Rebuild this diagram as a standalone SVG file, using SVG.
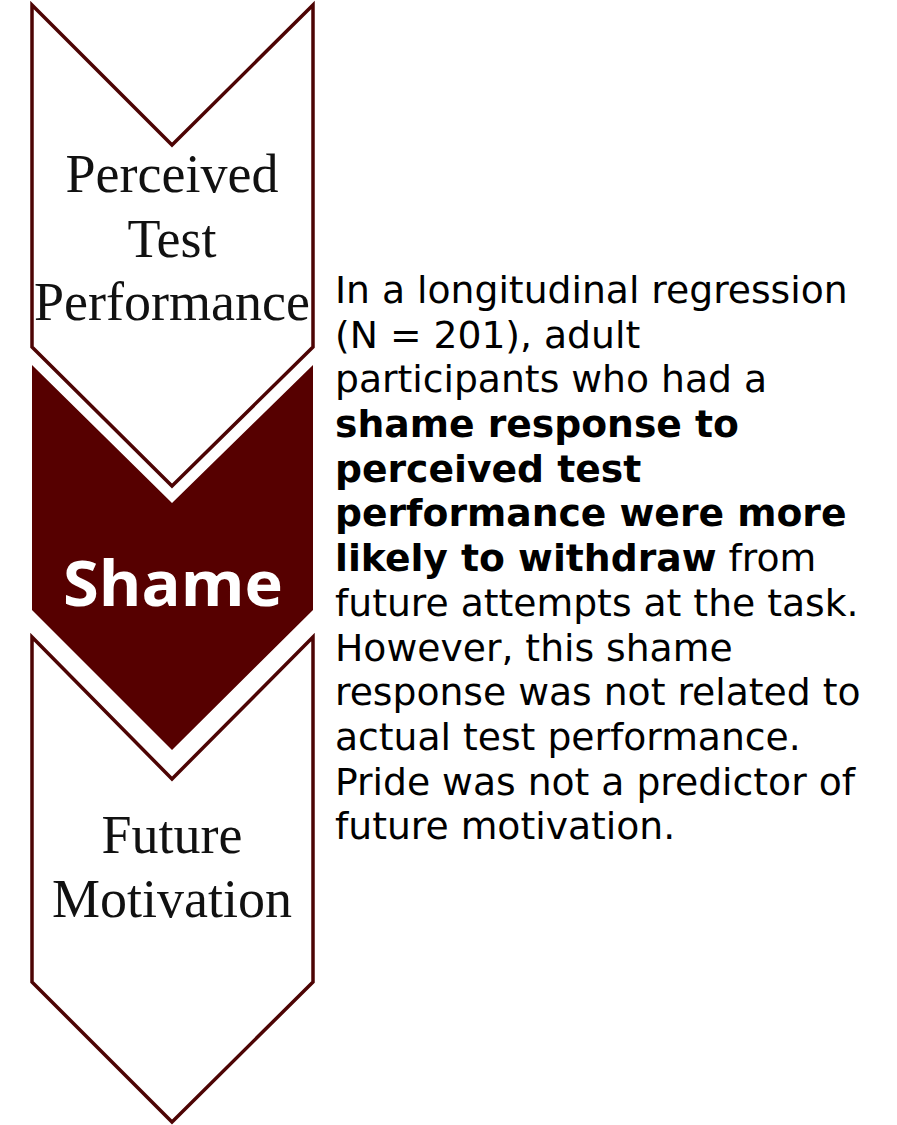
<svg xmlns="http://www.w3.org/2000/svg" width="897" height="1125" viewBox="0 0 897 1125">
  <style>
    .chev { fill: #ffffff; stroke: #4d0404; stroke-width: 3.5; stroke-linejoin: miter; }
    .chevfill { fill: #560000; stroke: none; }
    .serif { font-family: "Liberation Serif", "Times New Roman", serif; font-size: 54px; fill: #111111; text-anchor: middle; }
    .shame { font-family: "Open Sans", "DejaVu Sans", sans-serif; font-weight: 700; font-size: 63px; fill: #ffffff; }
    .body { font-family: "DejaVu Sans", Verdana, sans-serif; font-size: 37.7px; fill: #000000; }
    .b { font-weight: bold; }
  </style>
  <rect width="897" height="1125" fill="#ffffff"/>
  <g id="node-perceived">
    <polygon class="chev" points="32,5 172,145 313,5 313,347 172,486 32,347"/>
    <text class="serif" x="172" y="192">Perceived</text>
    <text class="serif" x="172" y="257">Test</text>
    <text class="serif" x="172" y="320">Performance</text>
  </g>
  <g id="node-shame">
    <polygon class="chevfill" points="32,365 172,503 313,365 313,610 172,750 32,610"/>
    <text class="shame" x="63" y="606" textLength="220" lengthAdjust="spacingAndGlyphs">Shame</text>
  </g>
  <g id="node-future">
    <polygon class="chev" points="32,637 172,779 313,637 313,982 172,1122 32,982"/>
    <text class="serif" x="172" y="853">Future</text>
    <text class="serif" x="172" y="917">Motivation</text>
  </g>
  <g id="connectors"></g>
  <g id="description">
    <text class="body" x="335" y="303">In a longitudinal regression</text>
    <text class="body" x="335" y="348">(N = 201), adult</text>
    <text class="body" x="335" y="392">participants who had a</text>
    <text class="body b" x="335" y="437">shame response to</text>
    <text class="body b" x="335" y="482">perceived test</text>
    <text class="body b" x="335" y="526">performance were more</text>
    <text class="body" x="335" y="571"><tspan class="b">likely to withdraw</tspan> from</text>
    <text class="body" x="335" y="616">future attempts at the task.</text>
    <text class="body" x="335" y="661">However, this shame</text>
    <text class="body" x="335" y="705">response was not related to</text>
    <text class="body" x="335" y="750">actual test performance.</text>
    <text class="body" x="335" y="795">Pride was not a predictor of</text>
    <text class="body" x="335" y="839">future motivation.</text>
  </g>
</svg>
